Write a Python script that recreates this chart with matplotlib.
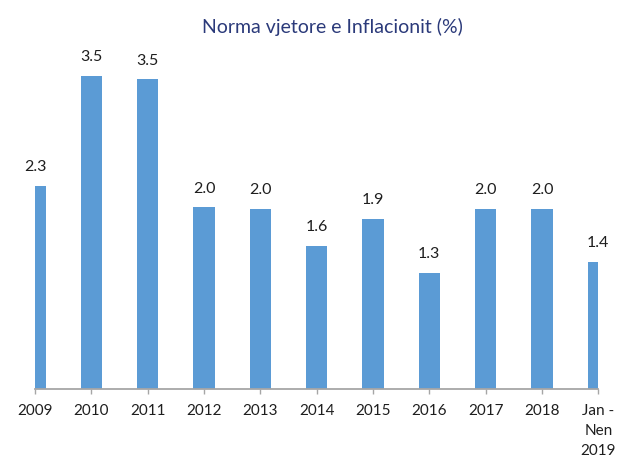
import matplotlib.pyplot as plt

# Annual inflation rate (%)
years = ["2009", "2010", "2011", "2012", "2013", "2014", "2015", "2016",
         "2017", "2018", "Jan -\nNen\n2019"]
values = [2.27, 3.50, 3.46, 2.03, 2.01, 1.60, 1.90, 1.30, 2.01, 2.01, 1.42]
labels = ["2.3", "3.5", "3.5", "2.0", "2.0", "1.6", "1.9", "1.3", "2.0", "2.0", "1.4"]

plt.rcParams['font.family'] = ['Lato', 'DejaVu Sans']

fig = plt.figure(figsize=(6.17, 4.61), dpi=100)
ax = fig.add_axes([0.0567, 0.1562, 0.913, 0.7766])

pos = list(range(len(years)))
ax.bar(pos, values, width=0.38, color="#5B9BD5")

for x, v, t in zip(pos, values, labels):
    ax.annotate(t, (x, v), xytext=(0, 13.5), textcoords="offset points",
                ha="center", va="center", fontsize=11.5, color="#1E1E1E")

ax.set_xlim(0, 10)
ax.set_ylim(0, 4)
ax.set_xticks(pos)
ax.set_xticklabels(years, fontsize=11, color="#1E1E1E", linespacing=1.55)
ax.tick_params(axis="x", length=3.5, width=1, color="#A6A6A6", pad=7)
ax.set_yticks([])

for side in ["top", "right", "left"]:
    ax.spines[side].set_visible(False)
ax.spines["bottom"].set_color("#A6A6A6")
ax.spines["bottom"].set_linewidth(1.3)

fig.text(0.538, 0.942, "Norma vjetore e Inflacionit (%)", ha="center", va="center",
         fontsize=14, color="#2B3A7A")

fig.savefig("out.png", dpi=100)
